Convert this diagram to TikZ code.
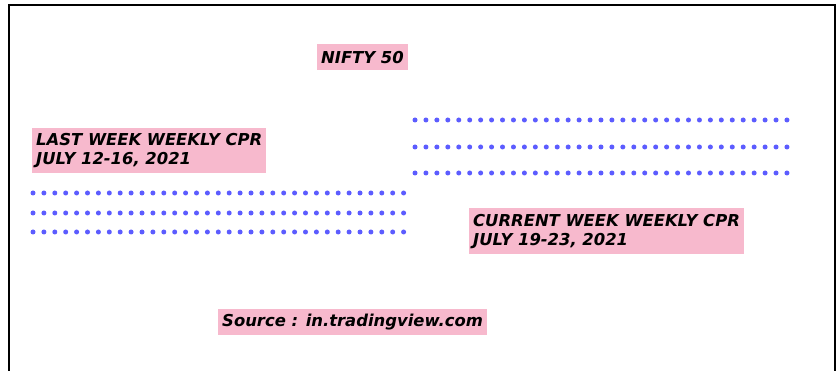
\documentclass[tikz,border=0pt]{standalone}
\usepackage{fontspec}
\usepackage{tikz}
\newfontfamily\cprfont{DejaVu Sans}

\begin{document}
\begin{tikzpicture}[
  x=1pt, y=-1pt,
  tag/.style={fill=tagpink, inner xsep=4pt, inner ysep=0pt, anchor=north west, align=left,
    font=\cprfont\bfseries\itshape\fontsize{16.4}{19}\selectfont},
  cprdot/.style={fill=dotblue}
]
\definecolor{tagpink}{HTML}{F7B9CD}
\definecolor{dotblue}{HTML}{5C5CFF}
\useasboundingbox (0,0) rectangle (838,371);
\fill[white] (0,0) rectangle (838,371);
% frame, open at the bottom
\draw[line width=2pt] (9,371) -- (9,5) -- (835,5) -- (835,371);

% labels
\node[tag, minimum height=26pt] (title) at (317,44) {NIFTY 50};
\node[tag, minimum height=45pt] (lastcpr) at (32,128) {LAST WEEK WEEKLY CPR\\JULY 12-16, 2021};
\node[tag, minimum height=46pt] (curcpr) at (469,208) {CURRENT WEEK WEEKLY CPR\\JULY 19-23, 2021};
\node[tag, minimum height=26pt] (source) at (218,309) {Source : in.tradingview.com};

% CPR levels as rows of dots
\foreach \y in {193,213,232}
  \foreach \i in {0,...,34}
    \fill[cprdot] (33+\i*10.9,\y) circle (2.5pt);
\foreach \y in {120,147,173}
  \foreach \i in {0,...,34}
    \fill[cprdot] (415+\i*10.94,\y) circle (2.5pt);
\end{tikzpicture}
\end{document}
